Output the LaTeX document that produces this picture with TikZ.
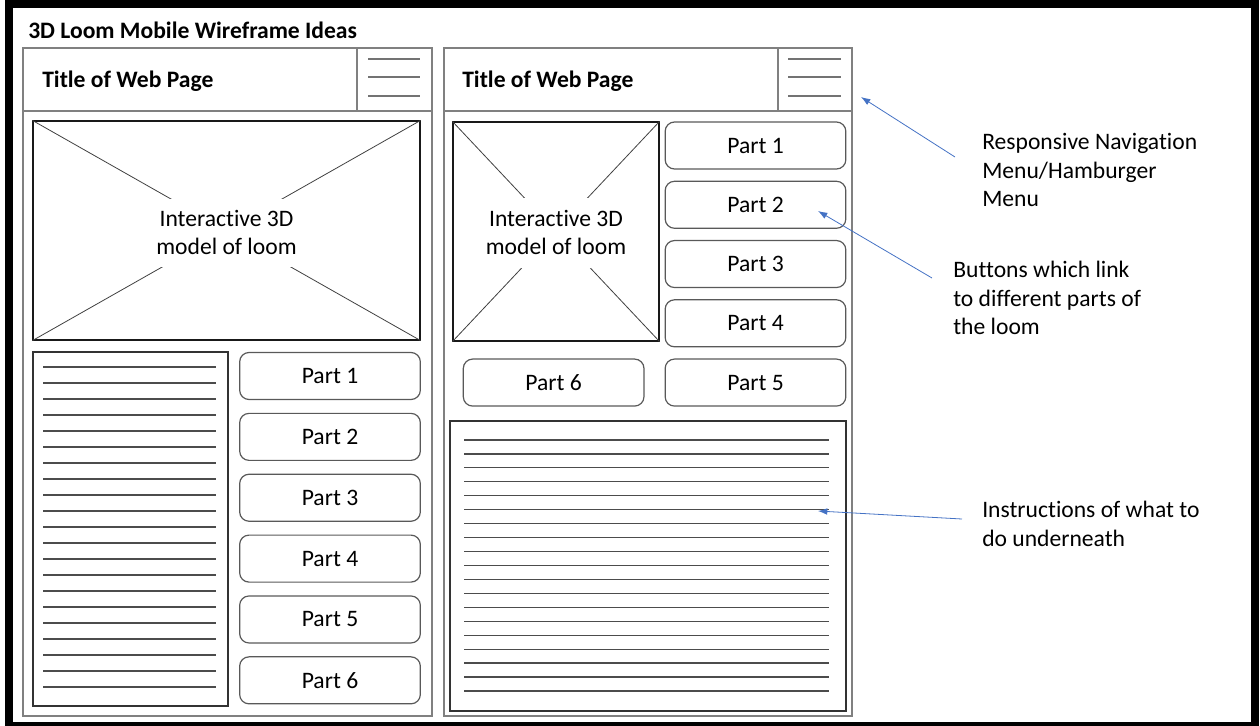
\documentclass[tikz,border=0pt]{standalone}
\usepackage{fontspec}
\setmainfont{Carlito}[Ligatures=NoCommon]
\usetikzlibrary{arrows.meta,positioning}
\definecolor{noteblue}{HTML}{4472C4}
\newcommand\wfsize{\fontsize{17.7}{21.5}\selectfont}

\begin{document}
\begin{tikzpicture}[x=0.75pt,y=-0.75pt,font=\wfsize,
  phonebox/.style={draw=black!50,line width=1.2pt,inner sep=0pt},
  imgbox/.style={draw=black!90,line width=0.9pt,inner sep=0pt},
  cross/.style={black!75,line width=0.6pt},
  imgcap/.style={fill=white,align=center,inner xsep=2pt,inner ysep=0pt},
  textbox/.style={draw=black!80,line width=0.9pt,inner sep=0pt},
  textrule/.style={black!70,line width=0.9pt},
  btn/.style={draw=black!65,line width=0.9pt,rounded corners=7pt,minimum width=135.5pt,minimum height=35.25pt,inner sep=0pt},
  burger/.style={black!55,line width=0.9pt},
  note/.style={align=left,inner sep=0pt,anchor=west},
  ptr/.style={-{Latex[length=7pt,width=5pt]},noteblue,line width=0.6pt}]
 \useasboundingbox (0,0) rectangle (1260,725);
 \draw[line width=6pt] (9,4) rectangle (1255,726);
 \node[anchor=base west,inner sep=0pt,font=\wfsize\bfseries] (heading) at (28,38) {3D Loom Mobile Wireframe Ideas};

 % first layout: picture on top, text and buttons side by side
 \node[phonebox,minimum width=306.75pt,minimum height=501pt] (phoneL) at (227.5,382) {};
 \node[phonebox,minimum width=306.75pt,minimum height=47.25pt,anchor=north] (barL) at (phoneL.north) {};
 \node[phonebox,minimum width=56.25pt,minimum height=47.25pt,anchor=north east] (menuL) at (phoneL.north east) {};
 \foreach \y in {59,77,96} \draw[burger] (368,\y) -- (420,\y);
 \node[anchor=base west,inner sep=0pt,font=\wfsize\bfseries] (titleL) at (42,87) {Title of Web Page};
 \node[imgbox,minimum width=290.25pt,minimum height=164.25pt] (modelL) at (226.5,230.5) {};
 \draw[cross] (modelL.north west) -- (modelL.south east) (modelL.north east) -- (modelL.south west);
 \node[imgcap,minimum height=51pt] (modelLtext) at (226.5,232.5) {Interactive 3D\\model of loom};
 \node[textbox,minimum width=146.25pt,minimum height=265.5pt] (infoL) at (130.5,529) {};
 \foreach \k in {0,...,20} \draw[textrule] (43,{367+16*\k}) -- (216,{367+16*\k});
 \node[btn] (partL1) at (330,376) {Part 1};
 \node[btn,below=9.5pt of partL1] (partL2) {Part 2};
 \node[btn,below=9.5pt of partL2] (partL3) {Part 3};
 \node[btn,below=9.5pt of partL3] (partL4) {Part 4};
 \node[btn,below=9.5pt of partL4] (partL5) {Part 5};
 \node[btn,below=9.5pt of partL5] (partL6) {Part 6};

 % second layout: buttons beside the picture, text below
 \node[phonebox,minimum width=306pt,minimum height=501pt] (phoneR) at (648,382) {};
 \node[phonebox,minimum width=306pt,minimum height=47.25pt,anchor=north] (barR) at (phoneR.north) {};
 \node[phonebox,minimum width=55.5pt,minimum height=47.25pt,anchor=north east] (menuR) at (phoneR.north east) {};
 \foreach \y in {59,77,96} \draw[burger] (788,\y) -- (841,\y);
 \node[anchor=base west,inner sep=0pt,font=\wfsize\bfseries] (titleR) at (462,87) {Title of Web Page};
 \node[imgbox,minimum width=154.5pt,minimum height=164.25pt] (modelR) at (556,231.5) {};
 \draw[cross] (modelR.north west) -- (modelR.south east) (modelR.north east) -- (modelR.south west);
 \node[imgcap,minimum height=52.5pt] (modelRtext) at (556,232.5) {Interactive 3D\\model of loom};
 \node[btn] (partR1) at (755.5,145.5) {Part 1};
 \node[btn,below=8.3pt of partR1] (partR2) {Part 2};
 \node[btn,below=8.3pt of partR2] (partR3) {Part 3};
 \node[btn,below=8.3pt of partR3] (partR4) {Part 4};
 \node[btn,below=8.3pt of partR4] (partR5) {Part 5};
 \node[btn,left=15pt of partR5] (partR6) {Part 6};
 \node[textbox,minimum width=297pt,minimum height=217.5pt] (infoR) at (648,566) {};
 \foreach \k in {0,...,18} \draw[textrule] (464,{440+13.94*\k}) -- (829,{440+13.94*\k});

 % notes
 \node[note] (navnote) at (982,170) {Responsive Navigation\\Menu/Hamburger\\Menu};
 \node[note] (partnote) at (953,298) {Buttons which link\\to different parts of\\the loom};
 \node[note] (stepnote) at (982,524) {Instructions of what to\\do underneath};
 \coordinate (navtail) at (955,157); \coordinate (navtip) at (861,97);
 \coordinate (parttail) at (932,278); \coordinate (parttip) at (818,211);
 \coordinate (steptail) at (962,519); \coordinate (steptip) at (818,511);
 \draw[ptr] (navtail) -- (navtip);
 \draw[ptr] (parttail) -- (parttip);
 \draw[ptr] (steptail) -- (steptip);
\end{tikzpicture}
\end{document}
